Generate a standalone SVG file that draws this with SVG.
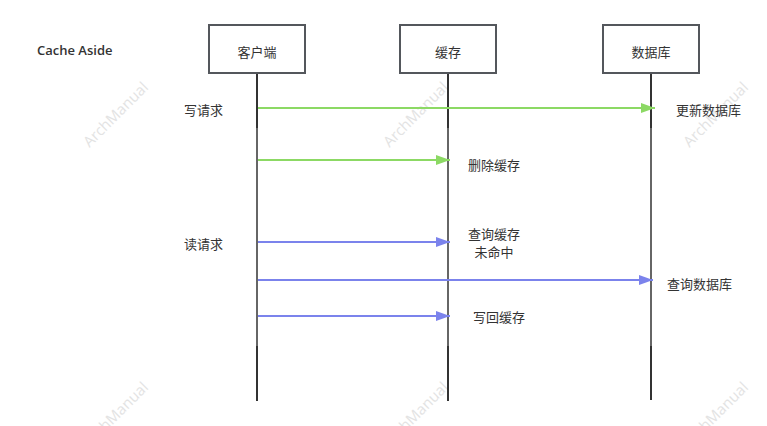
<svg xmlns="http://www.w3.org/2000/svg" width="767" height="426" viewBox="0 0 767 426">
<style>
.t{font-family:"Noto Sans CJK SC","Noto Sans",sans-serif;font-size:13px;fill:#333;dominant-baseline:central}
.m{text-anchor:middle}
.box{fill:#fff;stroke:#54575c;stroke-width:2}
.ld{stroke:#333;stroke-width:2}
.lg{stroke:#666;stroke-width:2}
.g{stroke:#8cd964;stroke-width:2;fill:none}
.b{stroke:#7b83ec;stroke-width:2;fill:none}
.wm{font-family:"Open Sans","Noto Sans",sans-serif;font-size:15px;fill:#e3e3e3;text-anchor:middle;dominant-baseline:central}
</style>
<defs>
<marker id="ag" markerWidth="14" markerHeight="10" refX="14" refY="5" markerUnits="userSpaceOnUse" orient="auto"><path d="M0,0 L14,5 L0,10 Z" fill="#8cd964"/></marker>
<marker id="ab" markerWidth="14" markerHeight="10" refX="14" refY="5" markerUnits="userSpaceOnUse" orient="auto"><path d="M0,0 L14,5 L0,10 Z" fill="#7b83ec"/></marker>
</defs>
<g id="watermarks">
<text class="wm" transform="translate(115,114) rotate(-45)">ArchManual</text>
<text class="wm" transform="translate(415,114) rotate(-45)">ArchManual</text>
<text class="wm" transform="translate(715,114) rotate(-45)">ArchManual</text>
<text class="wm" transform="translate(115,414) rotate(-45)">ArchManual</text>
<text class="wm" transform="translate(415,414) rotate(-45)">ArchManual</text>
<text class="wm" transform="translate(715,414) rotate(-45)">ArchManual</text>
</g>
<text id="title" x="37" y="50" class="t" style="font-family:'Open Sans','Noto Sans',sans-serif;font-weight:600;font-size:13px">Cache Aside</text>
<g id="lifelines">
<line class="ld" x1="257" y1="73" x2="257" y2="128"/><line class="lg" x1="257" y1="128" x2="257" y2="346"/><line class="ld" x1="257" y1="346" x2="257" y2="401"/>
<line class="ld" x1="448" y1="73" x2="448" y2="128"/><line class="lg" x1="448" y1="128" x2="448" y2="346"/><line class="ld" x1="448" y1="346" x2="448" y2="401"/>
<line class="ld" x1="651" y1="73" x2="651" y2="128"/><line class="lg" x1="651" y1="128" x2="651" y2="346"/><line class="ld" x1="651" y1="346" x2="651" y2="400"/>
</g>
<g id="client"><rect class="box" x="209" y="25" width="96" height="48"/><text class="t m" x="257" y="51">客户端</text></g>
<g id="cache"><rect class="box" x="400" y="25" width="96" height="48"/><text class="t m" x="448" y="51">缓存</text></g>
<g id="db"><rect class="box" x="603" y="25" width="96" height="48"/><text class="t m" x="651" y="51">数据库</text></g>
<g id="connectors">
<line class="g" x1="258" y1="108" x2="655" y2="108" marker-end="url(#ag)"/>
<line class="g" x1="258" y1="160" x2="450" y2="160" marker-end="url(#ag)"/>
<line class="b" x1="258" y1="242" x2="450" y2="242" marker-end="url(#ab)"/>
<line class="b" x1="258" y1="280" x2="653" y2="280" marker-end="url(#ab)"/>
<line class="b" x1="258" y1="316" x2="450" y2="316" marker-end="url(#ab)"/>
</g>
<g id="labels">
<text class="t" x="184" y="109">写请求</text>
<text class="t" x="676" y="109">更新数据库</text>
<text class="t" x="468" y="164">删除缓存</text>
<text class="t" x="184" y="243">读请求</text>
<text class="t m" x="494" y="233.5">查询缓存</text>
<text class="t m" x="494" y="251">未命中</text>
<text class="t" x="667" y="283">查询数据库</text>
<text class="t" x="473" y="316">写回缓存</text>
</g>
</svg>
